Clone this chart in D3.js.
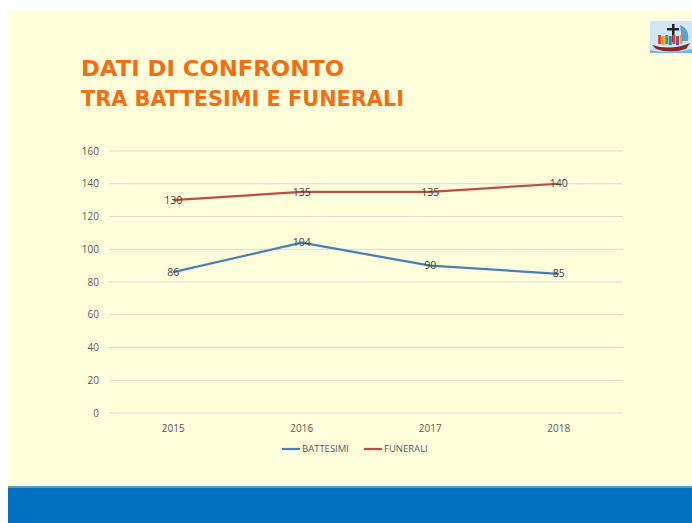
<!DOCTYPE html>
<html><head><meta charset="utf-8">
<script src="https://cdn.jsdelivr.net/npm/d3@7"></script>
<style>html,body{margin:0;padding:0;background:#fff;}svg{display:block;}</style>
</head><body>
<svg id="c" width="692" height="523"></svg>
<script>
const years = ["2015","2016","2017","2018"];
const battesimi = [86,104,90,85];
const funerali = [130,135,135,140];
const yTicks = [0,20,40,60,80,100,120,140,160];
const seriesNames = ["BATTESIMI","FUNERALI"];
const titleLines = ["DATI DI CONFRONTO","TRA BATTESIMI E FUNERALI"];

const svg = d3.select("#c");
// slide background
svg.append("rect").attr("x",8).attr("y",10).attr("width",684).attr("height",513).attr("fill","#FFFFDC");
svg.append("rect").attr("x",8).attr("y",486).attr("width",684).attr("height",2).attr("fill","#5E9CC8");
svg.append("rect").attr("x",8).attr("y",488).attr("width",684).attr("height",35).attr("fill","#0070C0");

// logo
const lg = svg.append("g").attr("transform","translate(650,21)");
lg.append("rect").attr("width",42).attr("height",32).attr("fill","#CFE6F5");
lg.append("path").attr("d","M2,24 Q21,30 40,22 L36,28 Q20,33 6,28 Z").attr("fill","#8A2A1E");
lg.append("path").attr("d","M0,29 Q21,34 42,28 L42,32 L0,32 Z").attr("fill","#6FB7E0");
lg.append("rect").attr("x",22).attr("y",3).attr("width",2.5).attr("height",18).attr("fill","#222");
lg.append("rect").attr("x",17).attr("y",7).attr("width",12).attr("height",2.5).attr("fill","#222");
const ppl = ["#E8452C","#F3A21B","#3FA34D","#2F7FC1","#E8452C","#7B4FA0","#F3A21B"];
ppl.forEach((c,i)=>{lg.append("rect").attr("x",8+i*3.6).attr("y",14+ (i%2)).attr("width",3).attr("height",9).attr("fill",c);});
lg.append("path").attr("d","M30,4 Q40,8 38,20 L32,20 Z").attr("fill","#2F7FC1").attr("opacity",0.7);

// title
const titleW = [263,323];
titleLines.forEach((l,i)=>svg.append("text").attr("x",81).attr("y",76+i*29.5)
  .attr("fill","#F26E14").attr("font-family","'DejaVu Sans', sans-serif").attr("font-weight","bold")
  .attr("font-size",21).attr("textLength",titleW[i]).attr("lengthAdjust","spacingAndGlyphs").text(l));

// scales
const x = d3.scaleBand().domain(years).range([109,623]);
const y = d3.scaleLinear().domain([0,160]).range([413,151]);
const cx = d => x(d)+x.bandwidth()/2;

// grid
svg.append("g").selectAll("line").data(yTicks).join("line")
  .attr("x1",109).attr("x2",623).attr("y1",d=>y(d)).attr("y2",d=>y(d))
  .attr("stroke","#DADAD0").attr("stroke-width",1);

// y axis
const yAxis = svg.append("g").attr("transform","translate(109,0)")
  .call(d3.axisLeft(y).tickValues(yTicks).tickSize(0).tickPadding(10));
yAxis.select(".domain").remove();
yAxis.selectAll("text").attr("fill","#595959").attr("font-family","'Open Sans', sans-serif").attr("font-size",10);

// x axis
const xAxis = svg.append("g").attr("transform","translate(0,413)")
  .call(d3.axisBottom(x).tickSize(0).tickPadding(12));
xAxis.select(".domain").remove();
xAxis.selectAll("text").attr("fill","#595959").attr("font-family","'Open Sans', sans-serif").attr("font-size",10);

const series = [
  {name:seriesNames[0], values:battesimi, color:"#4A7EBB"},
  {name:seriesNames[1], values:funerali, color:"#BE4B48"}
];
const line = d3.line().x((d,i)=>cx(years[i])).y(d=>y(d));
series.forEach(s=>{
  svg.append("path").attr("d",line(s.values)).attr("fill","none")
    .attr("stroke",s.color).attr("stroke-width",2.25).attr("stroke-linejoin","round");
  svg.append("g").selectAll("text").data(s.values).join("text")
    .attr("x",(d,i)=>cx(years[i])).attr("y",d=>y(d)).attr("dy","0.35em")
    .attr("text-anchor","middle").attr("fill","#404040")
    .attr("font-family","'Open Sans', sans-serif").attr("font-size",10.5).text(d=>d);
});

// legend
const legX = [282,364];
series.forEach((s,i)=>{
  const g = svg.append("g").attr("transform",`translate(${legX[i]},449)`);
  g.append("line").attr("x1",0).attr("x2",18).attr("stroke",s.color).attr("stroke-width",2.25);
  g.append("text").attr("x",20).attr("dy","0.35em").attr("fill","#595959")
    .attr("font-family","'Open Sans', sans-serif").attr("font-size",9.5).text(s.name);
});
</script>
</body></html>
